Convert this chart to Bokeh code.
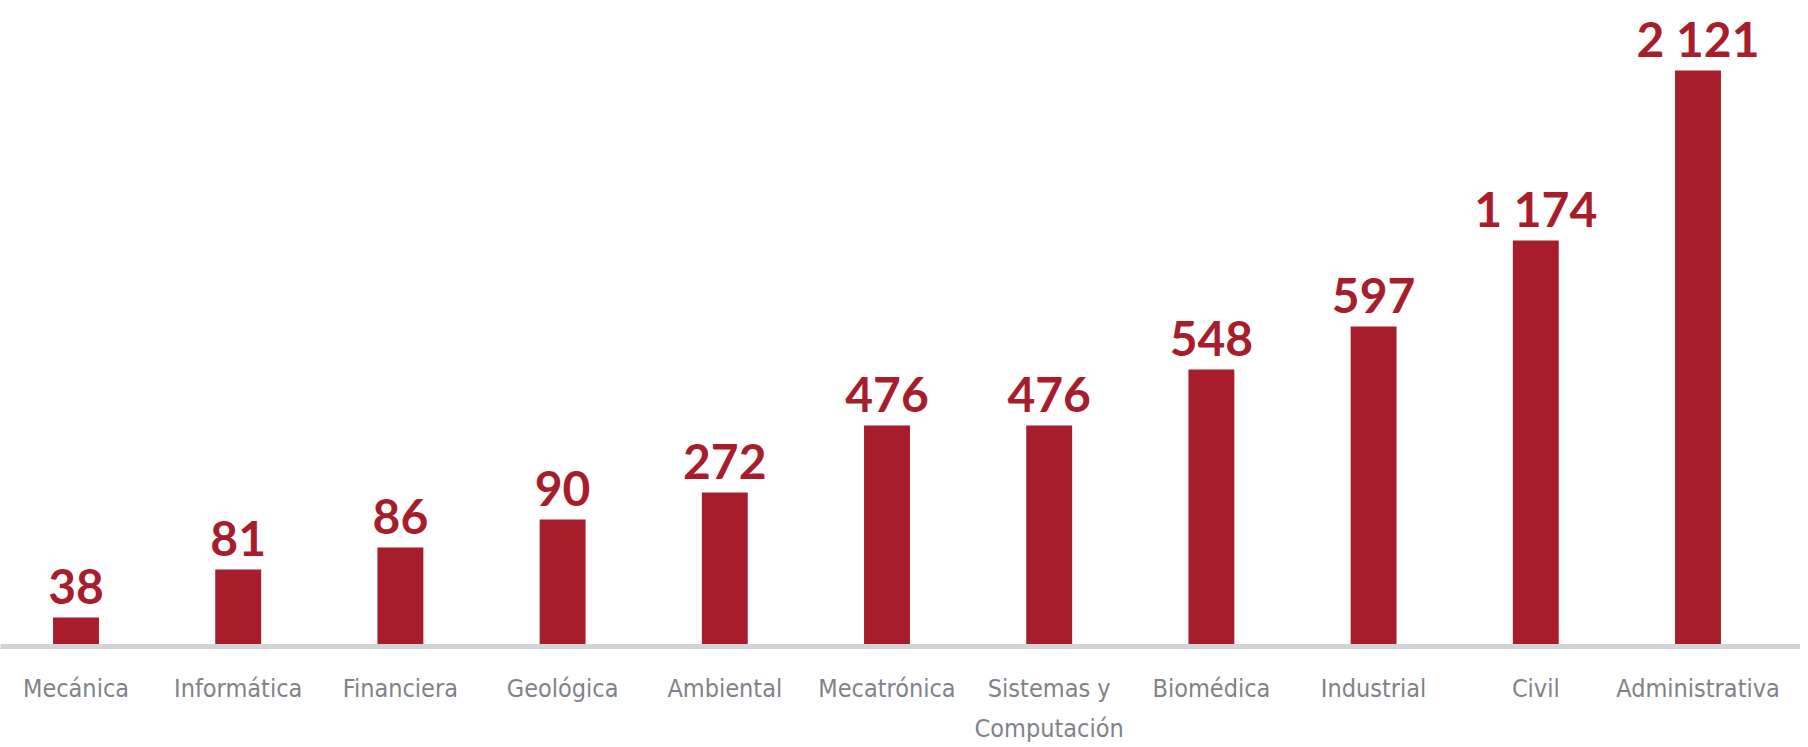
from bokeh.plotting import figure
from bokeh.models import ColumnDataSource, LabelSet, FixedTicker, Range1d
from bokeh.core.properties import value
from bokeh.embed import file_html
from bokeh.resources import INLINE

# Data
categories = ["Mecánica", "Informática", "Financiera", "Geológica", "Ambiental",
              "Mecatrónica", "Sistemas y\nComputación", "Biomédica", "Industrial",
              "Civil", "Administrativa"]
values = [38, 81, 86, 90, 272, 476, 476, 548, 597, 1174, 2121]
# visible bar lengths as drawn in the (non-linear) infographic, in picture units
bar_heights = [29, 77, 99, 127, 154, 221, 221, 277, 320, 406, 576]

BAR_COLOR = "#a81d2c"
LABEL_GREY = "#7f8388"

xs = list(range(len(categories)))
labels = [f"{v:,}".replace(",", " ") for v in values]
src = ColumnDataSource(dict(x=xs, top=bar_heights, label=labels))

p = figure(frame_width=1800, frame_height=638, output_backend="svg", toolbar_location=None,
           x_range=Range1d(-0.4655, 10.632), y_range=Range1d(0, 638),
           min_border_left=0, min_border_right=0, min_border_top=8,
           min_border_bottom=0, outline_line_color=None)

p.vbar(x="x", top="top", bottom=0, width=0.283, source=src,
       fill_color=BAR_COLOR, line_color=None)

p.add_layout(LabelSet(x="x", y="top", text="label", source=src,
                      y_offset=14, text_align="center", text_baseline="alphabetic",
                      text_font=value("Lato"), text_font_style="bold",
                      text_font_size="48px", text_color=BAR_COLOR))

p.yaxis.visible = False
p.grid.visible = False

ax = p.xaxis[0]
ax.ticker = FixedTicker(ticks=xs)
ax.major_label_overrides = {i: c for i, c in zip(xs, categories)}
ax.axis_line_color = "#d3d4d6"
ax.axis_line_width = 5
ax.major_tick_line_color = None
ax.minor_tick_line_color = None
ax.major_tick_out = 0
ax.major_label_standoff = 27
ax.major_label_text_font = "DejaVu Sans Condensed"
ax.major_label_text_font_size = "25px"
ax.major_label_text_line_height = 1.4
ax.major_label_text_color = LABEL_GREY

open("out.html", "w").write(file_html(p, INLINE))
